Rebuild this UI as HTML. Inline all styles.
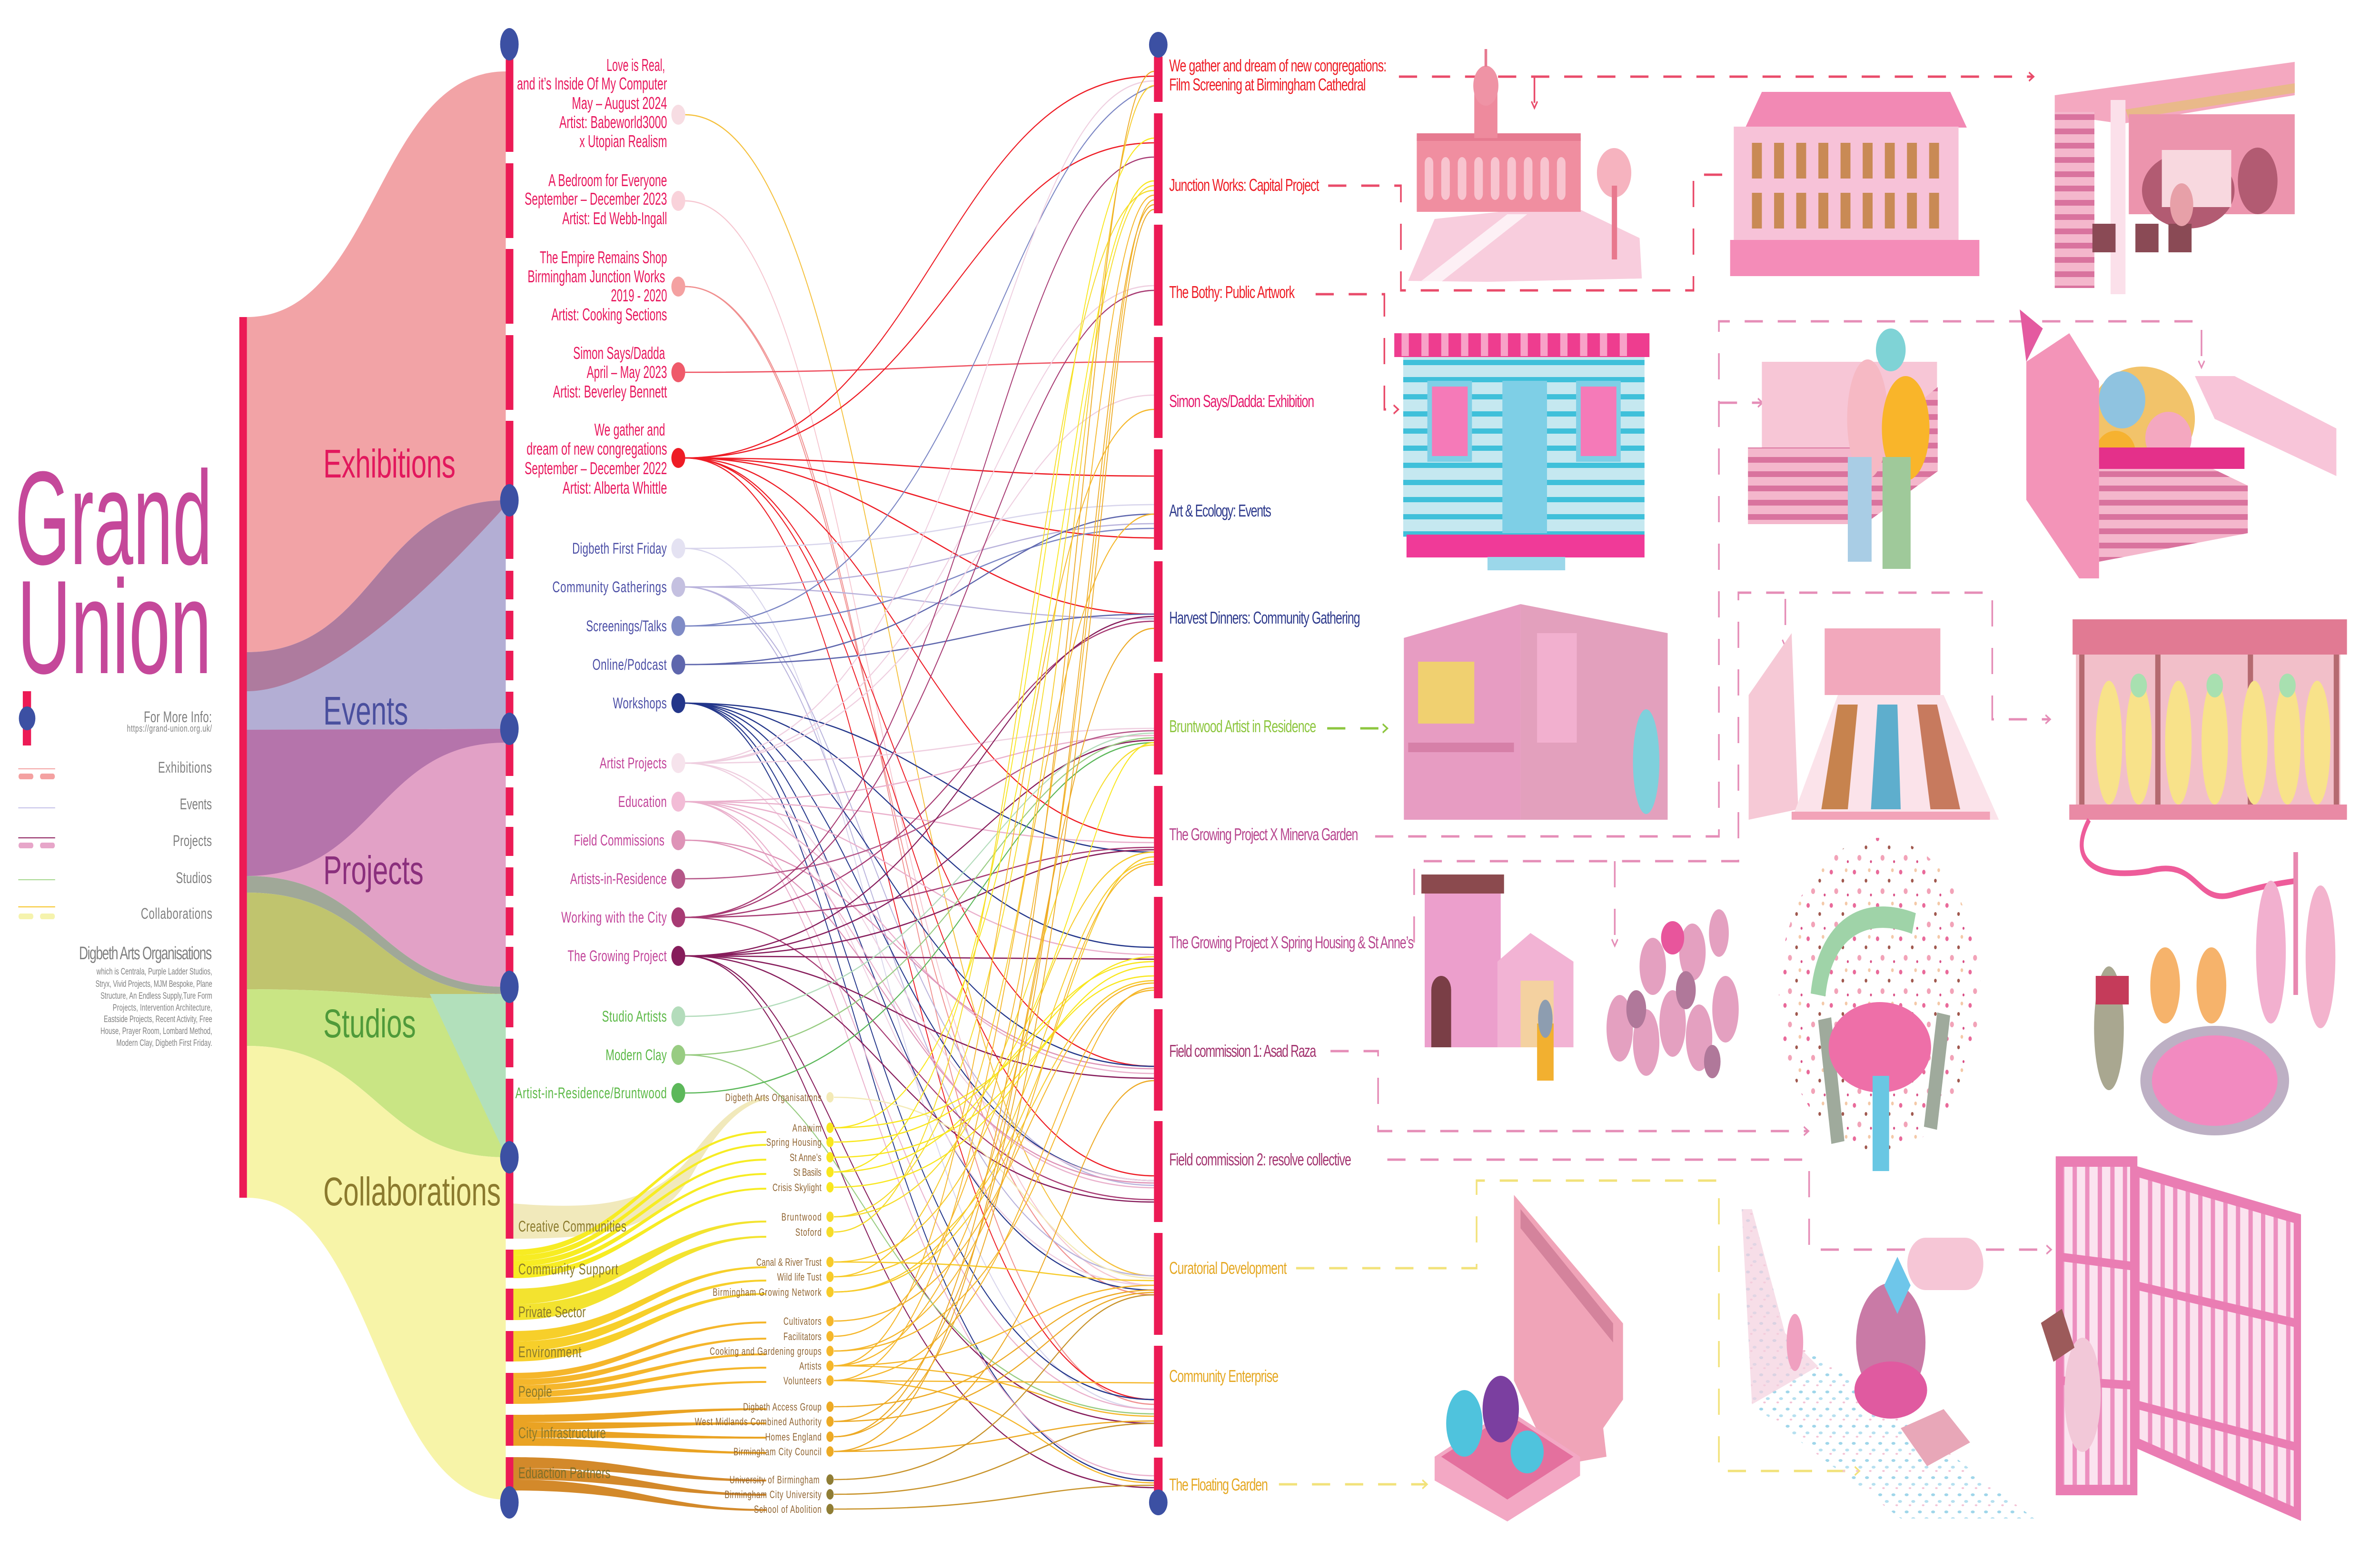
<!DOCTYPE html>
<html><head><meta charset="utf-8">
<meta name="viewport" content="width=device-width, initial-scale=1">
<style>
html,body{margin:0;padding:0;background:#fff;width:100%;height:100%;overflow:hidden}
svg{display:block;width:100%;height:100%;position:absolute;left:0;top:0}
text{font-family:"Liberation Sans",Arial,sans-serif}
</style></head><body>
<svg xmlns="http://www.w3.org/2000/svg" viewBox="0 0 7200 3277" preserveAspectRatio="none">
<defs>
<pattern id="dots" width="70" height="70" patternUnits="userSpaceOnUse">
<circle cx="10" cy="12" r="5" fill="#e96a9a"/><circle cx="45" cy="30" r="4" fill="#a0584e"/><circle cx="25" cy="52" r="6" fill="#f2a3b8"/><circle cx="60" cy="60" r="3" fill="#d94f86"/><circle cx="55" cy="8" r="4" fill="#f4c9a8"/></pattern>
<pattern id="blu" width="40" height="36" patternUnits="userSpaceOnUse">
<ellipse cx="8" cy="8" rx="6" ry="3" fill="#9fd6ea"/><ellipse cx="28" cy="22" rx="6" ry="3" fill="#b6e0f0"/><ellipse cx="18" cy="30" rx="4" ry="2" fill="#f4c3d6"/></pattern>
<pattern id="bars" width="38" height="10" patternUnits="userSpaceOnUse"><rect width="38" height="10" fill="#fbe3ef"/><rect width="13" height="10" fill="#ec8fbf"/></pattern>
<pattern id="strp" width="10" height="30" patternUnits="userSpaceOnUse"><rect width="10" height="30" fill="#f4b7cc"/><rect width="10" height="12" fill="#d9739e"/></pattern>
<pattern id="cyan" width="10" height="36" patternUnits="userSpaceOnUse"><rect width="10" height="36" fill="#c5e8f0"/><rect width="10" height="11" fill="#3fc0da"/></pattern>
</defs>

<text x="45" y="1185" font-size="280" fill="#c5489a" textLength="597" lengthAdjust="spacingAndGlyphs">Grand</text>
<text x="52" y="1414" font-size="280" fill="#c5489a" textLength="588" lengthAdjust="spacingAndGlyphs">Union</text>

<rect x="69" y="1452" width="25" height="114" fill="#ec1a55"/>
<circle cx="82" cy="1509" r="25" fill="#3c50a3"/>
<g fill="#808080" text-anchor="end">
<text x="641" y="1517" font-size="32" textLength="206">For More Info:</text>
<text x="641" y="1537" font-size="20" textLength="257">https://grand-union.org.uk/</text>
<text x="641" y="1623" font-size="32" textLength="163">Exhibitions</text>
<text x="641" y="1700" font-size="32" textLength="97">Events</text>
<text x="641" y="1777" font-size="32" textLength="118">Projects</text>
<text x="641" y="1855" font-size="32" textLength="109">Studios</text>
<text x="642" y="1930" font-size="32" textLength="216">Collaborations</text>
<text x="641" y="2015" font-size="38" textLength="402">Digbeth Arts Organisations</text>
<text x="642" y="2047" font-size="19" textLength="350">which is Centrala, Purple Ladder Studios,</text>
<text x="642" y="2073" font-size="19" textLength="353">Stryx, Vivid Projects, MJM Bespoke, Plane</text>
<text x="642" y="2098" font-size="19" textLength="338">Structure, An Endless Supply,Ture Form</text>
<text x="642" y="2123" font-size="19" textLength="301">Projects, Intervention Architecture,</text>
<text x="642" y="2147" font-size="19" textLength="328">Eastside Projects, Recent Activity, Free</text>
<text x="642" y="2172" font-size="19" textLength="338">House, Prayer Room, Lombard Method,</text>
<text x="642" y="2197" font-size="19" textLength="290">Modern Clay, Digbeth First Friday.</text>
</g>
<g stroke-linecap="round">
<line x1="56" y1="1615" x2="166" y2="1615" stroke="#f4a1a1" stroke-width="2"/>
<line x1="62" y1="1631" x2="95" y2="1631" stroke="#f4a1a1" stroke-width="12"/><line x1="127" y1="1631" x2="160" y2="1631" stroke="#f4a1a1" stroke-width="12"/>
<line x1="56" y1="1697" x2="166" y2="1697" stroke="#c4c0e8" stroke-width="2"/>
<line x1="56" y1="1760" x2="166" y2="1760" stroke="#8b1a5b" stroke-width="2"/>
<line x1="62" y1="1776" x2="95" y2="1776" stroke="#e7a6c9" stroke-width="12"/><line x1="127" y1="1776" x2="160" y2="1776" stroke="#e7a6c9" stroke-width="12"/>
<line x1="56" y1="1848" x2="166" y2="1848" stroke="#a6d88f" stroke-width="2"/>
<line x1="56" y1="1905" x2="166" y2="1905" stroke="#f6c323" stroke-width="2"/>
<line x1="62" y1="1925" x2="95" y2="1925" stroke="#f5f3ad" stroke-width="12"/><line x1="127" y1="1925" x2="160" y2="1925" stroke="#f5f3ad" stroke-width="12"/>
</g>

<path d="M747 666C1138 666 1138 150 1530 150L1530 1051C1138 1051 1138 1370 747 1370Z" fill="#f2a3a6"/>
<path d="M747 1370C1138 1370 1138 1051 1530 1051L1530 1531C1138 1531 1138 1533 747 1533Z" fill="#b3aed4"/>
<path d="M747 1370C1138 1370 1138 1051 1530 1051L1530 1062C1350 1200 1000 1452 747 1452Z" fill="#ae7b9e"/>
<path d="M747 1533L1530 1531L1530 2073C1138 2073 1138 1840 747 1840Z" fill="#e2a1c6"/>
<path d="M747 1533L1530 1531L1530 1560C1138 1560 1138 1840 747 1840Z" fill="#b574ab"/>
<path d="M747 1840C1138 1840 1138 2073 1530 2073L1530 2088C1138 2088 1138 1875 747 1875Z" fill="#a0a898"/>
<path d="M747 1875C1138 1875 1138 2088 1530 2088L1530 2100C1138 2100 1138 2078 747 2078Z" fill="#c0c46e"/>
<path d="M747 2078C1138 2078 1138 2100 1530 2100L1530 2431C1138 2431 1138 2197 747 2197Z" fill="#c9e584"/>
<path d="M1300 2088L1530 2088L1530 2428Z" fill="#b2e0bb"/>
<path d="M747 2197C1138 2197 1138 2431 1530 2431L1530 3150C1138 3150 1138 2516 747 2516Z" fill="#f7f4a8"/>
<rect x="724" y="666" width="23" height="1850" fill="#ec1a55"/>

<g font-size="84">
<text x="978" y="1003" fill="#e2185d" textLength="400">Exhibitions</text>
<text x="978" y="1522" fill="#4a4f9e">Events</text>
<text x="978" y="1857" fill="#8b2f7d">Projects</text>
<text x="978" y="2179" fill="#4f9a3a">Studios</text>
<text x="978" y="2532" fill="#8b7a2e" textLength="537">Collaborations</text>
</g>

<g>
<path d="M1553 2528C1850 2545 1990 2520 2100 2420C2200 2330 2260 2310 2318 2303L2318 2309C2250 2320 2180 2360 2100 2460C2000 2580 1850 2602 1553 2602Z" fill="#f1e9bb"/>
<g fill="#f7ec23">
<path d="M1553 2625C1900 2625 2000 2376 2318 2376L2318 2380C2000 2380 1900 2637 1553 2637Z"/>
<path d="M1553 2637C1900 2637 2000 2403 2318 2403L2318 2407C2000 2407 1900 2649 1553 2649Z"/>
<path d="M1553 2649C1900 2649 2000 2434 2318 2434L2318 2438C2000 2438 1900 2661 1553 2661Z"/>
<path d="M1553 2661C1900 2661 2000 2464 2318 2464L2318 2468C2000 2468 1900 2673 1553 2673Z"/>
<path d="M1553 2673C1900 2673 2000 2495 2318 2495L2318 2499C2000 2499 1900 2685 1553 2685Z"/>
</g>
<g fill="#f3e32f">
<path d="M1553 2707C1900 2707 2000 2564 2318 2564L2318 2568C2000 2568 1900 2740 1553 2740Z"/>
<path d="M1553 2740C1900 2740 2000 2596 2318 2596L2318 2600C2000 2600 1900 2773 1553 2773Z"/>
</g>
<g fill="#f7cf2a">
<path d="M1553 2796C1900 2796 2000 2660 2318 2660L2318 2664C2000 2664 1900 2818 1553 2818Z"/>
<path d="M1553 2818C1900 2818 2000 2688 2318 2688L2318 2692C2000 2692 1900 2839 1553 2839Z"/>
<path d="M1553 2839C1900 2839 2000 2716 2318 2716L2318 2720C2000 2720 1900 2860 1553 2860Z"/>
</g>
<g fill="#f5b62b">
<path d="M1553 2884C1900 2884 2000 2776 2318 2776L2318 2780C2000 2780 1900 2897 1553 2897Z"/>
<path d="M1553 2897C1900 2897 2000 2810 2318 2810L2318 2814C2000 2814 1900 2910 1553 2910Z"/>
<path d="M1553 2910C1900 2910 2000 2843 2318 2843L2318 2847C2000 2847 1900 2923 1553 2923Z"/>
<path d="M1553 2923C1900 2923 2000 2871 2318 2871L2318 2875C2000 2875 1900 2936 1553 2936Z"/>
<path d="M1553 2936C1900 2936 2000 2901 2318 2901L2318 2905C2000 2905 1900 2949 1553 2949Z"/>
</g>
<g fill="#eaa323">
<path d="M1553 2972C1900 2972 2000 2958 2318 2958L2318 2962C2000 2962 1900 2988 1553 2988Z"/>
<path d="M1553 2988C1900 2988 2000 2988 2318 2988L2318 2992C2000 2992 1900 3004 1553 3004Z"/>
<path d="M1553 3004C1900 3004 2000 3018 2318 3018L2318 3022C2000 3022 1900 3020 1553 3020Z"/>
<path d="M1553 3020C1900 3020 2000 3050 2318 3050L2318 3054C2000 3054 1900 3037 1553 3037Z"/>
</g>
<g fill="#d3892a">
<path d="M1553 3061C1900 3061 2000 3108 2318 3108L2318 3112C2000 3112 1900 3084 1553 3084Z"/>
<path d="M1553 3084C1900 3084 2000 3138 2318 3138L2318 3142C2000 3142 1900 3108 1553 3108Z"/>
<path d="M1553 3108C1900 3108 2000 3170 2318 3170L2318 3174C2000 3174 1900 3131 1553 3131Z"/>
</g>
</g>
<g font-size="32" fill="#8a7a2c">
<text x="1568" y="2587" textLength="327">Creative Communities</text>
<text x="1568" y="2677" textLength="302">Community Support</text>
<text x="1568" y="2767" textLength="204">Private Sector</text>
<text x="1568" y="2851" textLength="191">Environment</text>
<text x="1568" y="2934" textLength="102">People</text>
<text x="1568" y="3021" textLength="265">City Infrastructure</text>
<text x="1568" y="3105" textLength="279" fill="#7d6f2a">Eduaction Partners</text>
</g>

<g fill="#ec1a55">
<rect x="1530" y="119" width="23" height="200"/><rect x="1530" y="343" width="23" height="157"/><rect x="1530" y="523" width="23" height="157"/><rect x="1530" y="704" width="23" height="157"/><rect x="1530" y="884" width="23" height="167"/>
<rect x="1530" y="1051" width="23" height="123"/><rect x="1530" y="1199" width="23" height="60"/><rect x="1530" y="1283" width="23" height="60"/><rect x="1530" y="1367" width="23" height="62"/><rect x="1530" y="1453" width="23" height="78"/>
<rect x="1530" y="1531" width="23" height="99"/><rect x="1530" y="1654" width="23" height="59"/><rect x="1530" y="1737" width="23" height="61"/><rect x="1530" y="1822" width="23" height="60"/><rect x="1530" y="1906" width="23" height="59"/><rect x="1530" y="1989" width="23" height="84"/>
<rect x="1530" y="2073" width="23" height="85"/><rect x="1530" y="2182" width="23" height="60"/><rect x="1530" y="2266" width="23" height="165"/>
<rect x="1530" y="2431" width="23" height="171"/><rect x="1530" y="2625" width="23" height="59"/><rect x="1530" y="2707" width="23" height="66"/><rect x="1530" y="2796" width="23" height="64"/><rect x="1530" y="2884" width="23" height="65"/><rect x="1530" y="2972" width="23" height="65"/><rect x="1530" y="3061" width="23" height="95"/>
</g>
<g fill="#3c50a3">
<ellipse cx="1541" cy="93" rx="28" ry="34"/><ellipse cx="1541" cy="1051" rx="28" ry="34"/><ellipse cx="1541" cy="1531" rx="28" ry="34"/><ellipse cx="1541" cy="2073" rx="28" ry="34"/><ellipse cx="1541" cy="2431" rx="28" ry="34"/><ellipse cx="1541" cy="3156" rx="28" ry="34"/>
</g>

<g fill="#e8175d" font-size="36" text-anchor="end">
<text x="2012" y="149" textLength="177" lengthAdjust="spacingAndGlyphs">Love is Real,</text>
<text x="2018" y="188" textLength="454" lengthAdjust="spacingAndGlyphs">and it’s Inside Of My Computer</text>
<text x="2018" y="229" textLength="288" lengthAdjust="spacingAndGlyphs">May –  August 2024</text>
<text x="2018" y="269" textLength="326" lengthAdjust="spacingAndGlyphs">Artist: Babeworld3000</text>
<text x="2018" y="309" textLength="265" lengthAdjust="spacingAndGlyphs">x Utopian Realism</text>
<text x="2018" y="391" textLength="359" lengthAdjust="spacingAndGlyphs">A Bedroom for Everyone</text>
<text x="2018" y="430" textLength="431" lengthAdjust="spacingAndGlyphs">September – December 2023</text>
<text x="2018" y="471" textLength="317" lengthAdjust="spacingAndGlyphs">Artist: Ed Webb-Ingall</text>
<text x="2018" y="553" textLength="385" lengthAdjust="spacingAndGlyphs">The Empire Remains Shop</text>
<text x="2012" y="593" textLength="416" lengthAdjust="spacingAndGlyphs">Birmingham Junction Works</text>
<text x="2018" y="633" textLength="170" lengthAdjust="spacingAndGlyphs">2019 - 2020</text>
<text x="2018" y="673" textLength="350" lengthAdjust="spacingAndGlyphs">Artist: Cooking Sections</text>
<text x="2012" y="754" textLength="278" lengthAdjust="spacingAndGlyphs">Simon Says/Dadda</text>
<text x="2018" y="794" textLength="243" lengthAdjust="spacingAndGlyphs">April – May 2023</text>
<text x="2018" y="835" textLength="345" lengthAdjust="spacingAndGlyphs">Artist: Beverley Bennett</text>
<text x="2012" y="915" textLength="214" lengthAdjust="spacingAndGlyphs">We gather and</text>
<text x="2018" y="955" textLength="425" lengthAdjust="spacingAndGlyphs">dream of new congregations</text>
<text x="2018" y="996" textLength="431" lengthAdjust="spacingAndGlyphs">September – December 2022</text>
<text x="2018" y="1037" textLength="316" lengthAdjust="spacingAndGlyphs">Artist: Alberta Whittle</text>
</g>
<g font-size="32" text-anchor="end">
<g fill="#4c4fa6">
<text x="2017" y="1163" textLength="286">Digbeth First Friday</text>
<text x="2017" y="1244" textLength="346">Community Gatherings</text>
<text x="2017" y="1326" textLength="244">Screenings/Talks</text>
<text x="2017" y="1407" textLength="225">Online/Podcast</text>
<text x="2017" y="1488" textLength="163">Workshops</text>
</g>
<g fill="#c2449a">
<text x="2017" y="1614" textLength="203">Artist Projects</text>
<text x="2017" y="1695" textLength="147">Education</text>
<text x="2010" y="1776" textLength="274">Field Commissions</text>
<text x="2017" y="1857" textLength="292">Artists-in-Residence</text>
<text x="2017" y="1938" textLength="319">Working with the City</text>
<text x="2017" y="2019" textLength="300">The Growing Project</text>
</g>
<g fill="#5cb947">
<text x="2017" y="2146" textLength="196">Studio Artists</text>
<text x="2017" y="2227" textLength="185">Modern Clay</text>
<text x="2017" y="2307" textLength="458">Artist-in-Residence/Bruntwood</text>
</g>
</g>

<g fill="none" stroke-width="2.6">
<path d="M2073 241C2710 241 2710 2680 3491 2680" stroke="#f5c03b"/>
<path d="M2073 422C2640 422 2640 2700 3491 2700" stroke="#f6c6d0"/>
<path d="M2073 602C2660 602 2660 2720 3491 2720" stroke="#f08f8f"/>
<path d="M2073 602C2700 602 2700 2950 3491 2950" stroke="#f08f8f"/>
<path d="M2073 782C2800 782 2900 760 3491 760" stroke="#ee4f5f"/>
<g stroke="#ee1c25">
<path d="M2073 962C2800 962 2850 160 3491 160"/>
<path d="M2073 962C2850 962 2900 300 3491 300"/>
<path d="M2073 962C2700 962 2900 1000 3491 1000"/>
<path d="M2073 962C2700 962 2900 1130 3491 1130"/>
<path d="M2073 962C2700 962 2900 1290 3491 1290"/>
<path d="M2073 962C2700 962 2800 1760 3491 1760"/>
<path d="M2073 962C2700 962 2700 2240 3491 2240"/>
<path d="M2073 962C2720 962 2700 2470 3491 2470"/>
<path d="M2073 962C2720 962 2690 2940 3491 2940"/>
</g>
<path d="M2073 1152C2900 1152 3000 1060 3491 1060" stroke="#d8d5ec"/>
<path d="M2073 1152C2650 1152 2650 2960 3491 2960" stroke="#d8d5ec"/>
<g stroke="#b9b3dc">
<path d="M2073 1233C2900 1233 3000 1100 3491 1100"/>
<path d="M2073 1233C2800 1233 2900 1300 3491 1300"/>
<path d="M2073 1233C2630 1233 2630 2490 3491 2490"/>
<path d="M2073 1233C2640 1233 2640 2680 3491 2680"/>
</g>
<path d="M2073 1315C2900 1315 2950 1110 3491 1110" stroke="#7b86c4"/>
<path d="M2073 1315C2950 1315 3000 300 3491 180" stroke="#7b86c4"/>
<path d="M2073 1396C2900 1396 3000 1080 3491 1080" stroke="#5e66ad"/>
<path d="M2073 1396C2900 1396 2950 1290 3491 1290" stroke="#5e66ad"/>
<g stroke="#23368a">
<path d="M2073 1477C2800 1477 2900 1790 3491 1790"/>
<path d="M2073 1477C2700 1477 2800 1990 3491 1990"/>
<path d="M2073 1477C2650 1477 2700 2240 3491 2240"/>
<path d="M2073 1477C2640 1477 2660 2480 3491 2480"/>
<path d="M2073 1477C2620 1477 2640 2710 3491 2710"/>
<path d="M2073 1477C2610 1477 2620 2940 3491 2940"/>
<path d="M2073 1477C2600 1477 2620 3110 3491 3110"/>
</g>
<g stroke="#efcfe0">
<path d="M2073 1603C2950 1603 3000 170 3491 170"/>
<path d="M2073 1603C2950 1603 3000 600 3491 600"/>
<path d="M2073 1603C2900 1603 3000 830 3491 830"/>
<path d="M2073 1603C2900 1603 3000 1530 3491 1530"/>
<path d="M2073 1603C2650 1603 2700 2480 3491 2480"/>
<path d="M2073 1603C2640 1603 2680 2700 3491 2700"/>
</g>
<g stroke="#eab0cc">
<path d="M2073 1684C2900 1684 3000 1545 3491 1545"/>
<path d="M2073 1684C2800 1684 2900 1770 3491 1770"/>
<path d="M2073 1684C2700 1684 2800 2005 3491 2005"/>
<path d="M2073 1684C2660 1684 2700 2255 3491 2255"/>
<path d="M2073 1684C2650 1684 2680 2495 3491 2495"/>
<path d="M2073 1684C2630 1684 2660 2960 3491 2960"/>
<path d="M2073 1684C2620 1684 2650 3100 3491 3100"/>
</g>
<path d="M2073 1765C2700 1765 2750 2245 3491 2245" stroke="#de93b7"/>
<path d="M2073 1765C2680 1765 2700 2485 3491 2485" stroke="#de93b7"/>
<path d="M2073 1846C2900 1846 3000 1535 3491 1535" stroke="#b55688"/>
<g stroke="#a73a73">
<path d="M2073 1927C2900 1927 3000 330 3491 330"/>
<path d="M2073 1927C2900 1927 3000 610 3491 610"/>
<path d="M2073 1927C2900 1927 3000 1305 3491 1305"/>
<path d="M2073 1927C2900 1927 3000 1780 3491 1780"/>
<path d="M2073 1927C2700 1927 2750 2520 3491 2520"/>
</g>
<g stroke="#861c5b">
<path d="M2073 2008C2900 2008 3000 1295 3491 1295"/>
<path d="M2073 2008C2900 2008 3000 1555 3491 1555"/>
<path d="M2073 2008C2900 2008 3000 1785 3491 1785"/>
<path d="M2073 2008C2800 2008 2900 2015 3491 2015"/>
<path d="M2073 2008C2700 2008 2750 2265 3491 2265"/>
<path d="M2073 2008C2680 2008 2700 2525 3491 2525"/>
<path d="M2073 2008C2560 2008 2560 2990 3491 2990"/>
<path d="M2073 2008C2550 2008 2550 3125 3491 3125"/>
</g>
<path d="M2073 2135C2900 2135 3000 1540 3491 1540" stroke="#b3dcbb"/>
<path d="M2073 2216C2900 2216 3000 1550 3491 1550" stroke="#98cc82"/>
<path d="M2073 2216C2620 2216 2640 2970 3491 2970" stroke="#98cc82"/>
<path d="M2073 2296C2900 2296 3000 1560 3491 1560" stroke="#5cb85a"/>
<path d="M2523 2305C3100 2305 3100 2685 3491 2685" stroke="#f3eab6"/>
<g stroke="#f9e71e">
<path d="M2523 2369C3150 2369 3150 2010 3491 2010"/>
<path d="M2523 2369C3200 2369 3200 380 3491 380"/>
<path d="M2523 2399C3100 2399 3100 2020 3491 2020"/>
<path d="M2523 2431C3150 2431 3150 2030 3491 2030"/>
<path d="M2523 2462C3250 2462 3250 1560 3491 1560"/>
<path d="M2523 2494C3100 2494 3100 2050 3491 2050"/>
<path d="M2523 2462C3150 2462 3150 300 3491 290"/>
</g>
<g stroke="#f6dc2a">
<path d="M2523 2556C3150 2556 3150 1560 3491 1565"/>
<path d="M2523 2556C3200 2556 3200 390 3491 390"/>
<path d="M2523 2588C3100 2588 3100 400 3491 400"/>
</g>
<g stroke="#f7cb2a">
<path d="M2523 2651C3100 2651 3100 1790 3491 1790"/>
<path d="M2523 2651C3150 2651 3150 2690 3491 2690"/>
<path d="M2523 2682C3200 2682 3200 1800 3491 1800"/>
<path d="M2523 2714C3150 2714 3150 1810 3491 1810"/>
<path d="M2523 2714C3100 2714 3100 2060 3491 2060"/>
<path d="M2523 2682C3250 2682 3250 180 3491 180"/>
</g>
<g stroke="#f5b72b">
<path d="M2523 2775C3100 2775 3100 2065 3491 2065"/>
<path d="M2523 2807C3250 2807 3250 410 3491 410"/>
<path d="M2523 2838C3150 2838 3150 1815 3491 1815"/>
<path d="M2523 2838C3200 2838 3200 2075 3491 2075"/>
<path d="M2523 2869C3300 2869 3300 420 3491 420"/>
<path d="M2523 2869C3100 2869 3100 2700 3491 2700"/>
<path d="M2523 2869C3150 2869 3150 2975 3491 2975"/>
<path d="M2523 2900C3150 2900 3150 2080 3491 2080"/>
<path d="M2523 2900C3100 2900 3100 2905 3491 2905"/>
<path d="M2523 2900C3150 2900 3150 3115 3491 3115"/>
<path d="M2523 2869C3050 2869 3050 860 3491 860"/>
<path d="M2523 2900C3080 2900 3080 1080 3491 1080"/>
</g>
<g stroke="#edaa25">
<path d="M2523 2955C3100 2955 3100 2710 3491 2710"/>
<path d="M2523 2986C3280 2986 3280 430 3491 430"/>
<path d="M2523 2986C3150 2986 3150 2715 3491 2715"/>
<path d="M2523 3018C3300 3018 3300 440 3491 440"/>
<path d="M2523 3018C3250 3018 3250 150 3491 150"/>
<path d="M2523 3049C3200 3049 3200 2270 3491 2270"/>
<path d="M2523 3049C3100 3049 3100 2985 3491 2985"/>
<path d="M2523 3049C3120 3049 3120 1320 3491 1320"/>
</g>
<g stroke="#c8932a">
<path d="M2523 3108C3150 3108 3150 2720 3491 2720"/>
<path d="M2523 3139C3100 3139 3100 2990 3491 2990"/>
<path d="M2523 3170C3100 3170 3100 3120 3491 3120"/>
</g>
</g>

<g>
<circle cx="2052" cy="241" r="21" fill="#f7dde3"/><circle cx="2052" cy="422" r="21" fill="#f9d2da"/><circle cx="2052" cy="602" r="21" fill="#f4a1a1"/><circle cx="2052" cy="782" r="21" fill="#ef5a6a"/><circle cx="2052" cy="962" r="21" fill="#ee1c25"/>
<circle cx="2052" cy="1152" r="21" fill="#e4e2f2"/><circle cx="2052" cy="1233" r="21" fill="#c4c0e0"/><circle cx="2052" cy="1315" r="21" fill="#7f8bc6"/><circle cx="2052" cy="1396" r="21" fill="#5e66ad"/><circle cx="2052" cy="1477" r="21" fill="#23368a"/>
<circle cx="2052" cy="1603" r="21" fill="#f6e3ec"/><circle cx="2052" cy="1684" r="21" fill="#f2bcd6"/><circle cx="2052" cy="1765" r="21" fill="#de93b7"/><circle cx="2052" cy="1846" r="21" fill="#b55688"/><circle cx="2052" cy="1927" r="21" fill="#a73a73"/><circle cx="2052" cy="2008" r="21" fill="#861c5b"/>
<circle cx="2052" cy="2135" r="21" fill="#b3dcbb"/><circle cx="2052" cy="2216" r="21" fill="#98cc82"/><circle cx="2052" cy="2296" r="21" fill="#5cb85a"/>
</g>

<g font-size="22" fill="#8f6330" text-anchor="end">
<text x="2485" y="2313" textLength="291">Digbeth Arts Organisations</text>
<text x="2485" y="2377" textLength="88">Anawim</text>
<text x="2485" y="2407" textLength="167">Spring Housing</text>
<text x="2485" y="2439" textLength="96">St Anne’s</text>
<text x="2485" y="2470" textLength="85">St Basils</text>
<text x="2485" y="2502" textLength="148">Crisis Skylight</text>
<text x="2485" y="2564" textLength="121">Bruntwood</text>
<text x="2485" y="2596" textLength="79">Stoford</text>
<text x="2485" y="2659" textLength="197">Canal &amp; River Trust</text>
<text x="2485" y="2690" textLength="134">Wild life Tust</text>
<text x="2485" y="2722" textLength="329">Birmingham Growing Network</text>
<text x="2485" y="2783" textLength="115">Cultivators</text>
<text x="2485" y="2815" textLength="115">Facilitators</text>
<text x="2485" y="2846" textLength="338">Cooking and Gardening groups</text>
<text x="2485" y="2877" textLength="67">Artists</text>
<text x="2485" y="2908" textLength="115">Volunteers</text>
<text x="2485" y="2963" textLength="237">Digbeth Access Group</text>
<text x="2485" y="2994" textLength="383">West Midlands Combined Authority</text>
<text x="2485" y="3026" textLength="170">Homes England</text>
<text x="2485" y="3057" textLength="266">Birmingham City Council</text>
<text x="2479" y="3116" textLength="272">University of Birmingham</text>
<text x="2485" y="3147" textLength="293">Birmingham City University</text>
<text x="2485" y="3178" textLength="204">School of Abolition</text>
</g>
<g>
<circle cx="2511" cy="2305" r="11" fill="#f3eab6"/>
<g fill="#f9e71e"><circle cx="2511" cy="2369" r="11"/><circle cx="2511" cy="2399" r="11"/><circle cx="2511" cy="2431" r="11"/><circle cx="2511" cy="2462" r="11"/><circle cx="2511" cy="2494" r="11"/></g>
<g fill="#f6dc2a"><circle cx="2511" cy="2556" r="11"/><circle cx="2511" cy="2588" r="11"/></g>
<g fill="#f7cb2a"><circle cx="2511" cy="2651" r="11"/><circle cx="2511" cy="2682" r="11"/><circle cx="2511" cy="2714" r="11"/></g>
<g fill="#f5b72b"><circle cx="2511" cy="2775" r="11"/><circle cx="2511" cy="2807" r="11"/><circle cx="2511" cy="2838" r="11"/><circle cx="2511" cy="2869" r="11"/><circle cx="2511" cy="2900" r="11"/></g>
<g fill="#edaa25"><circle cx="2511" cy="2955" r="11"/><circle cx="2511" cy="2986" r="11"/><circle cx="2511" cy="3018" r="11"/><circle cx="2511" cy="3049" r="11"/></g>
<g fill="#8f7d35"><circle cx="2511" cy="3108" r="11"/><circle cx="2511" cy="3139" r="11"/><circle cx="2511" cy="3170" r="11"/></g>
</g>

<g fill="#ec1a55">
<rect x="3491" y="119" width="26" height="95"/><rect x="3491" y="238" width="26" height="210"/><rect x="3491" y="472" width="26" height="212"/><rect x="3491" y="708" width="26" height="212"/><rect x="3491" y="944" width="26" height="211"/><rect x="3491" y="1179" width="26" height="211"/><rect x="3491" y="1414" width="26" height="213"/><rect x="3491" y="1651" width="26" height="210"/><rect x="3491" y="1884" width="26" height="213"/><rect x="3491" y="2120" width="26" height="213"/><rect x="3491" y="2355" width="26" height="212"/><rect x="3491" y="2590" width="26" height="214"/><rect x="3491" y="2827" width="26" height="212"/><rect x="3491" y="3062" width="26" height="94"/>
</g>
<ellipse cx="3504" cy="94" rx="28" ry="27" fill="#3c50a3"/>
<ellipse cx="3504" cy="3156" rx="28" ry="27" fill="#3c50a3"/>

<g font-size="36" letter-spacing="1">
<text x="3537" y="150" fill="#ee1c25" textLength="659">We gather and dream of new congregations:</text>
<text x="3537" y="190" fill="#ee1c25" textLength="596">Film Screening at Birmingham Cathedral</text>
<text x="3537" y="401" fill="#ee1c25" textLength="455">Junction Works: Capital Project</text>
<text x="3537" y="626" fill="#ee1c25" textLength="381">The Bothy: Public Artwork</text>
<text x="3537" y="855" fill="#e5176b" textLength="440">Simon Says/Dadda: Exhibition</text>
<text x="3537" y="1085" fill="#2e3a8c" textLength="310">Art &amp; Ecology: Events</text>
<text x="3537" y="1310" fill="#2e3a8c" textLength="579">Harvest Dinners: Community Gathering</text>
<text x="3537" y="1538" fill="#8dc63f" textLength="446">Bruntwood Artist in Residence</text>
<text x="3537" y="1765" fill="#b8478f" textLength="573">The Growing Project X Minerva Garden</text>
<text x="3537" y="1992" fill="#b8478f" textLength="741">The Growing Project X Spring Housing &amp; St Anne’s</text>
<text x="3537" y="2220" fill="#a3346f" textLength="446">Field commission 1: Asad Raza</text>
<text x="3537" y="2448" fill="#a3346f" textLength="552">Field commission 2: resolve collective</text>
<text x="3537" y="2676" fill="#e5a823" textLength="357">Curatorial Development</text>
<text x="3537" y="2903" fill="#e5a823" textLength="332">Community Enterprise</text>
<text x="3537" y="3131" fill="#e5a823" textLength="300">The Floating Garden</text>
</g>

<g fill="none" stroke-width="5" stroke-dasharray="55 45">
<g stroke="#e94b6a">
<polyline points="4232,161 6150,161"/>
<polyline points="4642,161 4642,225"/>
<polyline points="4018,390 4238,390 4238,610 5123,610 5123,367 5270,367"/>
<polyline points="3980,618 4188,618 4188,860 4228,860"/>
</g>
<g stroke="#e58db7">
<polyline points="4160,1757 5200,1757 5200,675 6660,675 6660,770"/>
<polyline points="5200,846 5330,846"/>
<polyline points="4278,1980 4278,1809 5259,1809 5259,1245 6027,1245 6027,1511 6200,1511"/>
<polyline points="4885,1809 4885,1985"/>
<polyline points="5401,1258 5401,1356"/>
<polyline points="4025,2208 4169,2208 4169,2376 5469,2376"/>
<polyline points="4197,2436 5473,2436 5473,2625 6203,2625"/>
</g>
<g stroke="#f2e27a">
<polyline points="3921,2664 4467,2664 4467,2480 5200,2480 5200,3090 5623,3090"/>
<polyline points="3869,3118 4315,3118"/>
</g>
<polyline points="4015,1530 4195,1530" stroke="#8dc63f"/>
</g>
<g fill="none" stroke-width="4">
<polyline points="6138,152 6152,161 6138,170" stroke="#e94b6a"/>
<polyline points="4633,213 4642,227 4651,213" stroke="#e94b6a"/>
<polyline points="5258,358 5272,367 5258,376" stroke="#e94b6a"/>
<polyline points="4216,851 4230,860 4216,869" stroke="#e94b6a"/>
<polyline points="6651,758 6660,772 6669,758" stroke="#e58db7"/>
<polyline points="5318,837 5332,846 5318,855" stroke="#e58db7"/>
<polyline points="6188,1502 6202,1511 6188,1520" stroke="#e58db7"/>
<polyline points="4876,1973 4885,1987 4894,1973" stroke="#e58db7"/>
<polyline points="5392,1344 5401,1358 5410,1344" stroke="#e58db7"/>
<polyline points="5457,2367 5471,2376 5457,2385" stroke="#e58db7"/>
<polyline points="6191,2616 6205,2625 6191,2634" stroke="#e58db7"/>
<polyline points="5611,3081 5625,3090 5611,3099" stroke="#f2e27a"/>
<polyline points="4303,3109 4317,3118 4303,3127" stroke="#f2e27a"/>
<polyline points="4183,1521 4197,1530 4183,1539" stroke="#8dc63f"/>
</g>

<path d="M4260 590L4340 460L4600 440L4780 440L4960 500L4967 585L4500 592Z" fill="#f8cddd"/>
<path d="M4300 590L4560 450L4620 450L4360 592Z" fill="#fff" opacity=".7"/>
<rect x="4286" y="290" width="496" height="155" fill="#f08ea0"/>
<g fill="#f8c4cf"><rect x="4310" y="330" width="26" height="90" rx="13"/><rect x="4360" y="330" width="26" height="90" rx="13"/><rect x="4410" y="330" width="26" height="90" rx="13"/><rect x="4460" y="330" width="26" height="90" rx="13"/><rect x="4510" y="330" width="26" height="90" rx="13"/><rect x="4560" y="330" width="26" height="90" rx="13"/><rect x="4610" y="330" width="26" height="90" rx="13"/><rect x="4660" y="330" width="26" height="90" rx="13"/><rect x="4710" y="330" width="26" height="90" rx="13"/></g>
<rect x="4286" y="280" width="496" height="16" fill="#e67a90"/>
<rect x="4460" y="190" width="70" height="100" fill="#ee8a9d"/>
<ellipse cx="4495" cy="180" rx="38" ry="42" fill="#ef93a5"/>
<line x1="4495" y1="103" x2="4495" y2="140" stroke="#e67a90" stroke-width="8"/>
<circle cx="4883" cy="363" r="52" fill="#f6b3bf"/>
<rect x="4876" y="390" width="16" height="155" fill="#e8788e"/>
<path d="M5280 268L5330 193L5900 193L5950 268Z" fill="#f289b4"/>
<rect x="5245" y="266" width="680" height="244" fill="#f7c2d8"/>
<g fill="#c98a55"><rect x="5300" y="300" width="30" height="75"/><rect x="5367" y="300" width="30" height="75"/><rect x="5434" y="300" width="30" height="75"/><rect x="5501" y="300" width="30" height="75"/><rect x="5568" y="300" width="30" height="75"/><rect x="5635" y="300" width="30" height="75"/><rect x="5702" y="300" width="30" height="75"/><rect x="5769" y="300" width="30" height="75"/><rect x="5836" y="300" width="30" height="75"/>
<rect x="5300" y="405" width="30" height="75"/><rect x="5367" y="405" width="30" height="75"/><rect x="5434" y="405" width="30" height="75"/><rect x="5501" y="405" width="30" height="75"/><rect x="5568" y="405" width="30" height="75"/><rect x="5635" y="405" width="30" height="75"/><rect x="5702" y="405" width="30" height="75"/><rect x="5769" y="405" width="30" height="75"/><rect x="5836" y="405" width="30" height="75"/></g>
<rect x="5234" y="504" width="754" height="76" fill="#f48cb8"/>
<path d="M6216 200L6942 130L6942 200L6420 260L6216 240Z" fill="#f4a8c0"/>
<path d="M6430 230L6942 175L6942 195L6440 250Z" fill="#e9b98a"/>
<rect x="6440" y="240" width="502" height="210" fill="#ec94ad"/>
<rect x="6216" y="235" width="120" height="370" fill="url(#strp)"/>
<rect x="6385" y="210" width="45" height="408" fill="#fbe0ea"/>
<ellipse cx="6620" cy="400" rx="140" ry="80" fill="#b25b72"/>
<ellipse cx="6830" cy="380" rx="60" ry="70" fill="#b25b72"/>
<rect x="6540" y="315" width="210" height="120" fill="#f8d8df"/>
<g fill="#8a4a55"><rect x="6330" y="470" width="70" height="60"/><rect x="6460" y="470" width="70" height="60"/><rect x="6560" y="470" width="70" height="60"/></g>
<ellipse cx="6600" cy="430" rx="35" ry="45" fill="#e7a0a8"/>
<rect x="4245" y="748" width="730" height="380" fill="url(#cyan)"/>
<rect x="4218" y="700" width="772" height="50" fill="#ee3d8f"/>
<g fill="#f8a2c8"><rect x="4240" y="700" width="22" height="48"/><rect x="4300" y="700" width="22" height="48"/><rect x="4360" y="700" width="22" height="48"/><rect x="4420" y="700" width="22" height="48"/><rect x="4480" y="700" width="22" height="48"/><rect x="4540" y="700" width="22" height="48"/><rect x="4600" y="700" width="22" height="48"/><rect x="4660" y="700" width="22" height="48"/><rect x="4720" y="700" width="22" height="48"/><rect x="4780" y="700" width="22" height="48"/><rect x="4840" y="700" width="22" height="48"/><rect x="4900" y="700" width="22" height="48"/></g>
<rect x="4318" y="800" width="135" height="170" fill="#7ecfe6"/><rect x="4332" y="812" width="108" height="146" fill="#f57ab8"/>
<rect x="4768" y="800" width="135" height="170" fill="#7ecfe6"/><rect x="4782" y="812" width="108" height="146" fill="#f57ab8"/>
<rect x="4545" y="800" width="135" height="320" fill="#7ecfe6"/>
<rect x="4255" y="1123" width="720" height="48" fill="#f03a98"/>
<rect x="4500" y="1170" width="235" height="28" fill="#9bd7ea"/>
<rect x="5330" y="760" width="530" height="190" fill="#f7c6d6"/>
<path d="M5288 940L5640 940L5862 813L5862 990L5640 1101L5288 1101Z" fill="url(#strp)"/>
<ellipse cx="5650" cy="880" rx="62" ry="125" fill="#f6b9c4"/>
<rect x="5590" y="960" width="72" height="220" fill="#a9cde5"/>
<ellipse cx="5765" cy="900" rx="72" ry="110" fill="#f9b52a"/>
<rect x="5695" y="960" width="85" height="235" fill="#9fc99a"/>
<ellipse cx="5720" cy="735" rx="45" ry="45" fill="#7fd3d6"/>
<path d="M7068 900L7068 1000L6700 880L6640 790L6760 790Z" fill="#f8c5d9"/>
<ellipse cx="6480" cy="880" rx="160" ry="110" fill="#f2c36a"/>
<ellipse cx="6420" cy="840" rx="70" ry="60" fill="#8fc3e0"/>
<ellipse cx="6560" cy="920" rx="70" ry="55" fill="#f4a8c0"/>
<ellipse cx="6400" cy="950" rx="60" ry="45" fill="#f6b230"/>
<path d="M6350 960L6620 960L6800 1020L6800 1120L6350 1180Z" fill="url(#strp)"/>
<rect x="6350" y="940" width="440" height="45" fill="#e4308a"/>
<path d="M6130 760L6260 700L6350 800L6350 1215L6290 1215L6130 1050Z" fill="#f394b8"/>
<path d="M6130 760L6110 650L6180 690Z" fill="#e45aa0"/>
<path d="M4247 1340L4600 1269L4600 1722L4247 1722Z" fill="#e79cc2"/>
<path d="M4600 1269L5045 1330L5045 1722L4600 1722Z" fill="#e3a0bd"/>
<rect x="4290" y="1390" width="170" height="130" fill="#f0d070"/>
<rect x="4260" y="1560" width="320" height="20" fill="#d680a8"/>
<rect x="4650" y="1330" width="120" height="230" fill="#f2b0cf"/>
<ellipse cx="4980" cy="1600" rx="40" ry="110" fill="#7fd0dc"/>
<rect x="5520" y="1320" width="350" height="140" fill="#f2a8bc"/>
<path d="M5290 1460L5420 1330L5440 1700L5290 1722Z" fill="#f6c9d6"/>
<path d="M5420 1722L5560 1460L5880 1460L6047 1722Z" fill="#fbe3ea"/>
<path d="M5560 1480L5620 1480L5590 1700L5510 1700Z" fill="#c7834e"/>
<path d="M5680 1480L5740 1480L5750 1700L5660 1700Z" fill="#5eaecd"/>
<path d="M5800 1480L5860 1480L5930 1700L5840 1700Z" fill="#c77a5e"/>
<rect x="5420" y="1705" width="600" height="17" fill="#f2a3b8"/>
<rect x="6270" y="1301" width="830" height="74" fill="#e17a93"/>
<rect x="6280" y="1375" width="800" height="320" fill="#f2bfc9"/>
<g fill="#b56a70"><rect x="6290" y="1375" width="16" height="320"/><rect x="6520" y="1375" width="16" height="320"/><rect x="6800" y="1375" width="16" height="320"/><rect x="7060" y="1375" width="16" height="320"/></g>
<g fill="#f8e28a"><ellipse cx="6380" cy="1560" rx="40" ry="130"/><ellipse cx="6470" cy="1560" rx="40" ry="130"/><ellipse cx="6590" cy="1560" rx="40" ry="130"/><ellipse cx="6700" cy="1560" rx="40" ry="130"/><ellipse cx="6820" cy="1560" rx="40" ry="130"/><ellipse cx="6920" cy="1560" rx="40" ry="130"/><ellipse cx="7010" cy="1560" rx="40" ry="130"/></g>
<g fill="#a8e0b0"><circle cx="6470" cy="1440" r="25"/><circle cx="6700" cy="1440" r="25"/><circle cx="6920" cy="1440" r="25"/></g>
<rect x="6260" y="1690" width="840" height="32" fill="#e98aa5"/>
<path d="M6320 1722C6260 1800 6320 1850 6500 1830C6650 1800 6640 1900 6750 1880C6850 1860 6900 1855 6950 1850" fill="none" stroke="#ee5c9a" stroke-width="12"/>
<rect x="4310" y="1870" width="230" height="330" fill="#ec9fcc"/>
<rect x="4300" y="1837" width="250" height="40" fill="#8b4a4e"/>
<path d="M4330 2200L4330 2080A30 30 0 0 1 4390 2080L4390 2200Z" fill="#7a3e46"/>
<path d="M4530 2020L4630 1960L4760 2020L4760 2200L4530 2200Z" fill="#f2b3d4"/>
<rect x="4600" y="2060" width="100" height="140" fill="#f4d1a0"/>
<rect x="4650" y="2150" width="50" height="120" fill="#f2b030"/>
<ellipse cx="4675" cy="2140" rx="22" ry="40" fill="#8d9db0"/>
<g fill="#e4a0c0"><ellipse cx="4900" cy="2160" rx="40" ry="70"/><ellipse cx="4980" cy="2190" rx="40" ry="70"/><ellipse cx="5060" cy="2150" rx="40" ry="70"/><ellipse cx="5140" cy="2180" rx="40" ry="70"/><ellipse cx="5220" cy="2120" rx="40" ry="70"/><ellipse cx="5000" cy="2030" rx="40" ry="60"/><ellipse cx="5120" cy="2000" rx="40" ry="60"/><ellipse cx="5200" cy="1960" rx="30" ry="50"/></g>
<g fill="#b0789a"><ellipse cx="4950" cy="2120" rx="30" ry="40"/><ellipse cx="5100" cy="2080" rx="30" ry="40"/><ellipse cx="5180" cy="2230" rx="25" ry="35"/></g>
<ellipse cx="5060" cy="1970" rx="35" ry="35" fill="#e8559c"/>
<ellipse cx="5687" cy="2090" rx="305" ry="330" fill="url(#dots)"/>
<path d="M5500 2090C5520 1950 5640 1900 5790 1940" fill="none" stroke="#9fd3a8" stroke-width="45"/>
<path d="M5520 2140L5560 2400" stroke="#9faa9c" stroke-width="40"/>
<path d="M5880 2130L5840 2370" stroke="#9faa9c" stroke-width="40"/>
<ellipse cx="5687" cy="2200" rx="155" ry="95" fill="#ee6fa8"/>
<rect x="5665" y="2260" width="50" height="200" fill="#69c7e3"/>
<ellipse cx="6700" cy="2270" rx="225" ry="115" fill="#bdb0c4"/>
<ellipse cx="6700" cy="2270" rx="190" ry="95" fill="#f28ac0"/>
<ellipse cx="6550" cy="2070" rx="45" ry="80" fill="#f6b36b"/>
<ellipse cx="6690" cy="2070" rx="45" ry="80" fill="#f6b36b"/>
<ellipse cx="6380" cy="2160" rx="45" ry="130" fill="#a9a790"/>
<rect x="6340" y="2050" width="100" height="60" fill="#c53b5a"/>
<ellipse cx="6870" cy="2000" rx="45" ry="150" fill="#f2b0cf"/>
<ellipse cx="7020" cy="2010" rx="45" ry="150" fill="#f3b3cd"/>
<rect x="6938" y="1790" width="14" height="300" fill="#e888b0"/>
<path d="M4580 2510L4910 2780L4910 2940L4850 3000L4860 3060L4700 3080L4580 2900Z" fill="#f0a4b8"/>
<path d="M4600 2540L4880 2780L4880 2820L4600 2580Z" fill="#d4839c"/>
<path d="M4340 3060L4560 2960L4780 3060L4780 3100L4560 3196L4340 3110Z" fill="#f3a8c4"/>
<path d="M4360 3060L4560 2970L4760 3060L4560 3150Z" fill="#e4709e"/>
<ellipse cx="4430" cy="2990" rx="55" ry="70" fill="#4fc3dd"/>
<ellipse cx="4540" cy="2960" rx="55" ry="70" fill="#7b3fa0"/>
<ellipse cx="4620" cy="3050" rx="50" ry="45" fill="#4fc3dd"/>
<path d="M5269 2540L5300 2540L5400 2800L5800 3000L6154 3190L5750 3190L5300 2950Z" fill="url(#blu)"/>
<path d="M5269 2540L5300 2540L5400 2800L5500 2870L5300 2950Z" fill="#f4d0de" opacity=".7"/>
<rect x="5770" y="2600" width="230" height="110" rx="55" fill="#f6c6d6"/>
<ellipse cx="5720" cy="2820" rx="105" ry="125" fill="#c97aa6"/>
<path d="M5700 2700L5740 2640L5780 2700L5740 2760Z" fill="#6ec6ea"/>
<ellipse cx="5720" cy="2920" rx="110" ry="60" fill="#e05aa0"/>
<path d="M5750 3000L5880 2960L5960 3030L5830 3080Z" fill="#e8a7b8"/>
<ellipse cx="5430" cy="2820" rx="25" ry="60" fill="#f0a0c0"/>
<rect x="6230" y="2440" width="225" height="690" fill="url(#bars)"/>
<path d="M6460 2460L6950 2560L6950 3180L6460 3030Z" fill="url(#bars)"/>
<g fill="none" stroke="#ea7db3" stroke-width="22">
<rect x="6230" y="2440" width="225" height="690"/>
<path d="M6460 2460L6950 2560L6950 3180L6460 3030Z"/>
</g>
<g stroke="#ea7db3" stroke-width="18"><line x1="6230" y1="2640" x2="6455" y2="2660"/><line x1="6460" y1="2700" x2="6950" y2="2780"/><line x1="6230" y1="2900" x2="6455" y2="2910"/><line x1="6460" y1="2950" x2="6950" y2="3040"/></g>
<ellipse cx="6300" cy="2930" rx="55" ry="120" fill="#f2c8d8"/>
<rect x="6190" y="2760" width="70" height="90" fill="#9c5a5a" transform="rotate(-25 6225 2805)"/>
</svg>
</body></html>
